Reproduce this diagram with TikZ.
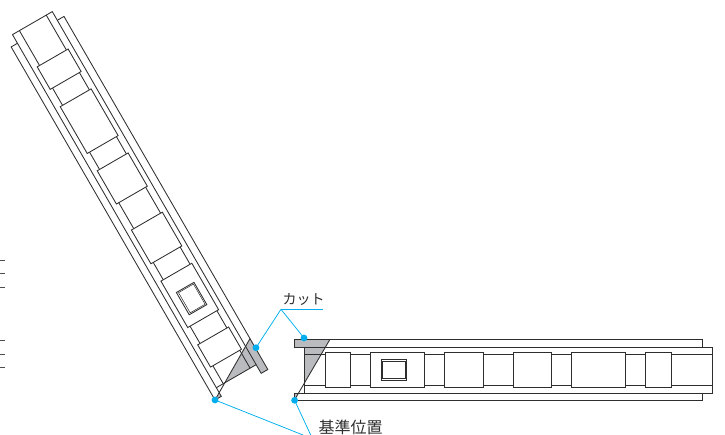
\documentclass[tikz,border=0pt]{standalone}
\usepackage{fontspec}
\newfontfamily\cjk{Noto Sans CJK JP}
\definecolor{leadc}{HTML}{00AEEF}
\definecolor{cutgrey}{HTML}{B9BBBF}
\definecolor{inkc}{HTML}{2E2E2E}
\tikzset{
  part/.style={draw=inkc,line width=0.85pt,line join=miter},
  cutfill/.style={fill=cutgrey,draw=none},
  leader/.style={draw=leadc,line width=0.75pt},
  dotmark/.style={circle,fill=leadc,draw=none,minimum size=6.8pt,inner sep=0pt},
  lbl/.style={text=inkc,inner sep=0pt,anchor=base west},
  tick/.style={draw=inkc!85,line width=0.9pt}
}
\newcommand{\ladderbox}[2]{\draw[part,fill=white] (#1,352) -- (#2,352) -- (#2,387.7) -- (#1,387.7) -- cycle;}
\newcommand{\ladderpart}{%
  \begin{scope}[shift={(-294.3,-400.3)}]
    % grey cut zones
    \fill[cutfill] (294.3,339.3) -- (330,339.3) -- (325.5,347) -- (294.3,347) -- cycle;
    \fill[cutfill] (304.3,347) -- (325.5,347) -- (304.3,383) -- cycle;
    \fill[cutfill] (294.3,393) -- (298.6,393) -- (294.3,400.3) -- cycle;
    % rails
    \draw[part] (294.3,347) -- (294.3,339.3) -- (702,339.3) -- (702,347);
    \draw[part] (294.3,347) -- (712,347) -- (712,393) -- (294.3,393) -- (294.3,400.3) -- (702,400.3) -- (702,393);
    \draw[part] (304.3,347) -- (304.3,393);
    \draw[part] (304.3,354) -- (712,354);
    \draw[part] (304.3,385) -- (712,385);
    % boxes
    \ladderbox{325}{350.7}
    \ladderbox{370.7}{424.3}
    \ladderbox{444.3}{483.3}
    \ladderbox{513.3}{551.7}
    \ladderbox{571.7}{625.7}
    \ladderbox{645.7}{671.7}
    % window
    \draw[part,fill=white] (381,359.7) -- (406.7,359.7) -- (406.7,380) -- (381,380) -- cycle;
    \draw[part,line width=0.5pt] (382.2,361) -- (405.5,361) -- (405.5,378.2) -- (382.2,378.2) -- cycle;
    % cut diagonal
    \draw[part] (330,339.3) -- (294.3,400.3);
  \end{scope}%
}
\begin{document}
\begin{tikzpicture}[x=1pt,y=-1pt]
  \useasboundingbox (0,0) rectangle (725,435);
  \begin{scope}
    \clip (0,0) -- (725,0) -- (725,435) -- (0,435) -- cycle;
    % left (rotated, mirrored) piece
    \begin{scope}[shift={(215,400)},x={(-0.5pt,0.866pt)},y={(-0.866pt,-0.5pt)}]
      \ladderpart
    \end{scope}
    % right piece
    \begin{scope}[shift={(294.3,400.3)}]
      \ladderpart
    \end{scope}
    % leaders
    \coordinate (cutapex) at (281,309.3);
    \coordinate (cutend) at (322.7,309.3);
    \node[dotmark] (cutA) at (256,347.7) {};
    \node[dotmark] (cutB) at (304,338) {};
    \node[dotmark] (baseA) at (215,400) {};
    \node[dotmark] (baseB) at (294.6,400.3) {};
    \coordinate (baseAend) at (303,435);
    \coordinate (baseBend) at (310.7,435);
    \draw[leader] (cutA.center) -- (cutapex) -- (cutB.center);
    \draw[leader] (cutapex) -- (cutend);
    \draw[leader] (baseA.center) -- (baseAend);
    \draw[leader] (baseB.center) -- (baseBend);
    % labels
    \node[lbl,font=\cjk\fontsize{14}{14}\selectfont] (cutlabel) at (282.5,304.5) {カット};
    \node[lbl,font=\cjk\fontsize{16}{16}\selectfont] (baselabel) at (318.5,433) {基準位置};
    % ticks
    \foreach \yy in {260,273,287,340,354,367.6} \draw[tick] (0,\yy) -- (5,\yy);
  \end{scope}
\end{tikzpicture}
\end{document}
